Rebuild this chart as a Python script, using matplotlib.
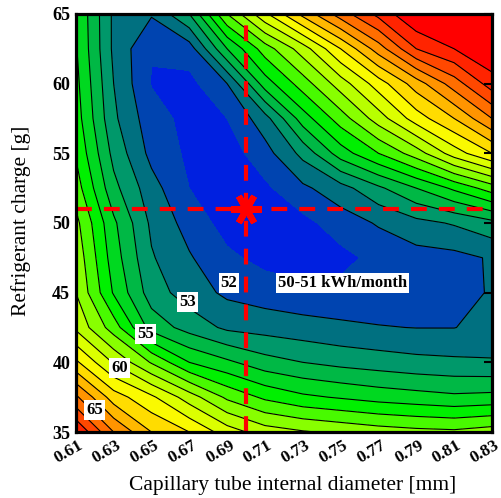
import numpy as np
import matplotlib.pyplot as plt
import matplotlib.transforms as mtransforms
from matplotlib.colors import ListedColormap, BoundaryNorm

plt.rcParams['font.family'] = ['Liberation Serif', 'DejaVu Serif']

# capillary tube internal diameter [mm] and refrigerant charge [g]
diameter = [0.61, 0.63, 0.65, 0.67, 0.69, 0.71, 0.73, 0.75, 0.77, 0.79, 0.81, 0.83]
charge = [35, 37.5, 40, 42.5, 45, 47.5, 50, 52.5, 55, 57.5, 60, 62.5, 65]

# energy consumption [kWh/month], one row per charge value
energy = [
    [68.0, 65.0, 63.0, 62.0, 60.5, 59.5, 59.1, 58.8, 58.5, 58.3, 58.2, 58.5],
    [65.2, 62.5, 61.2, 59.5, 57.8, 56.8, 56.2, 55.9, 55.6, 55.4, 55.2, 55.3],
    [62.2, 59.9, 57.9, 56.0, 55.2, 54.4, 54.0, 53.7, 53.5, 53.3, 53.2, 53.1],
    [59.8, 57.5, 54.6, 53.6, 52.8, 52.6, 52.4, 52.2, 52.05, 51.98, 51.98, 52.3],
    [59.0, 55.9, 53.5, 52.5, 51.8, 51.5, 51.3, 51.3, 51.4, 51.5, 51.6, 52.1],
    [58.7, 55.5, 53.1, 52.1, 51.2, 50.7, 50.5, 50.7, 51.3, 51.6, 51.7, 52.1],
    [58.3, 55.2, 52.8, 51.6, 50.6, 50.5, 50.7, 51.5, 52.1, 52.7, 53.1, 53.7],
    [57.5, 54.3, 52.4, 51.0, 50.4, 50.8, 51.8, 52.6, 53.8, 55.0, 56.2, 57.5],
    [56.9, 53.7, 51.7, 50.8, 50.5, 51.6, 53.3, 55.5, 57.0, 58.5, 60.5, 62.0],
    [56.5, 53.2, 51.4, 50.7, 51.0, 52.6, 55.5, 57.5, 59.5, 61.5, 63.0, 65.0],
    [56.3, 53.0, 50.95, 50.7, 52.0, 55.5, 57.5, 59.5, 61.5, 63.5, 65.5, 67.5],
    [56.1, 52.8, 51.05, 51.5, 55.0, 57.5, 59.5, 62.0, 64.5, 67.0, 68.0, 69.0],
    [56.0, 52.8, 52.1, 54.0, 58.0, 60.8, 63.3, 65.5, 67.3, 69.0, 70.0, 71.0],
]

levels = list(range(50, 69))
line_levels = list(range(52, 69))
band_colors = ['#0020e0', '#0044b0', '#007080', '#00986a', '#00b845', '#00d820',
               '#00f000', '#48fa00', '#88ff00', '#b8ff00', '#dcff00', '#fafa00',
               '#ffdc00', '#ffb800', '#ff9400', '#ff6e00', '#ff4800', '#ff2400']

label_levels = [52, 53, 55, 60, 65]
label_spots = [(0.691, 45.7), (0.669, 44.3), (0.647, 42.0), (0.633, 39.6), (0.620, 36.6)]

best_d = 0.70
best_c = 51

X, Y = np.meshgrid(diameter, charge)
Z = np.array(energy)

cmap = ListedColormap(band_colors)
cmap.set_over('#ff0000')
norm = BoundaryNorm(levels, cmap.N)

fig = plt.figure(figsize=(5.02, 4.98), dpi=100)
ax = fig.add_axes([0.151, 0.1325, 0.829, 0.8395])

ax.contourf(X, Y, Z, levels=levels, cmap=cmap, norm=norm, extend='max')
ax.contour(X, Y, Z, levels=line_levels, colors='k', linewidths=0.8)

box = dict(facecolor='white', edgecolor='none', pad=1.5)
for lev, (d, c) in zip(label_levels, label_spots):
    ax.text(d, c, str(lev), fontsize=12, fontweight='bold',
            ha='center', va='center', bbox=box)

ax.text(0.751, 45.7, '50-51 kWh/month', fontsize=12, fontweight='bold',
        ha='center', va='center', bbox=box)

ax.axhline(best_c, color='#ff0000', lw=3, ls=(0, (3.8, 2.9)))
ax.axvline(best_d, color='#ff0000', lw=3, ls=(0, (3.8, 2.9)))
ax.plot([best_d], [best_c], marker=(6, 2, 30), ms=22, mew=4.5, color='#ff0000')

ax.set_xlim(0.61, 0.83)
ax.set_ylim(35, 65)
ax.set_xticks(diameter)
ax.set_xticklabels(['%.2f' % d for d in diameter], rotation=30, fontweight='bold', fontsize=12.5)
ax.set_yticks([35, 40, 45, 50, 55, 60, 65])
ax.set_yticklabels(['35', '40', '45', '50', '55', '60', '65'], fontweight='bold', fontsize=13)
ax.tick_params(direction='in', length=6, width=1.5, left=False, bottom=False,
               right=True, top=False, pad=4)
# nudge the slanted labels a little to the left, as in the original
shift = mtransforms.ScaledTranslation(-7 / 100, 0, fig.dpi_scale_trans)
for t in ax.get_xticklabels():
    t.set_transform(t.get_transform() + shift)
for s in ax.spines.values():
    s.set_linewidth(2.3)

ax.set_xlabel('Capillary tube internal diameter [mm]', fontsize=15.5)
ax.set_ylabel('Refrigerant charge [g]', fontsize=15.5)
ax.xaxis.set_label_coords(0.52, -0.105)
ax.yaxis.set_label_coords(-0.108, 0.505)

fig.savefig('out.png', dpi=100)
